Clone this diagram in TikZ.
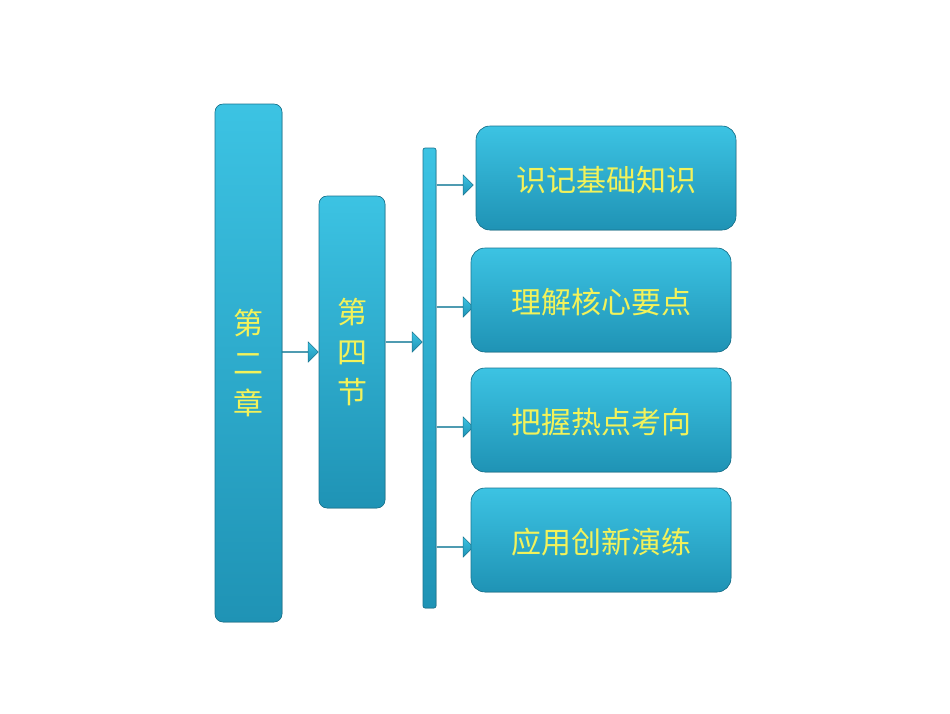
\documentclass[tikz,border=0pt]{standalone}
\usepackage{fontspec}
\newfontfamily\cjk{Noto Sans CJK SC}
\usetikzlibrary{shapes.arrows}
\definecolor{boxtop}{HTML}{3CC3E3}
\definecolor{boxbot}{HTML}{1F93B5}
\definecolor{txt}{HTML}{F2F25A}
\tikzset{
  box/.style={rounded corners=8pt, top color=boxtop, bottom color=boxbot, draw=boxbot!80!black, line width=0.6pt},
  lbl/.style={text=txt, font=\cjk\fontsize{30}{40}\selectfont, align=center},
  barrow/.style={single arrow, single arrow head extend=5pt, minimum height=36pt, minimum width=20pt, inner sep=0pt, top color=boxtop, bottom color=boxbot, draw=boxbot!80!black, line width=0.5pt}
}
\begin{document}
\begin{tikzpicture}[x=1pt,y=-1pt]
\useasboundingbox (0,0) rectangle (950,713);
\fill[white] (0,0) rectangle (950,713);
\filldraw[box] (215,104) rectangle (282,622);
\node[lbl] (c) at (248.5,363) {第\\二\\章};
\filldraw[box] (319,196) rectangle (385,508);
\node[lbl] (s) at (352,352) {第\\四\\节};
\filldraw[box,rounded corners=2pt] (423,148) rectangle (436,608);
\node[barrow] (a1) at (300,352) {};
\node[barrow] (a2) at (404,342) {};
\foreach \y/\t/\xa in {178/识记基础知识/476, 300/理解核心要点/471, 420/把握热点考向/471, 540/应用创新演练/471}{
  \node[barrow] at (455,\y+7) {};
  \filldraw[box,rounded corners=14pt] (\xa,\y-52) rectangle (\xa+260,\y+52);
  \node[lbl] at (\xa+130,\y+2) {\t};
}
\end{tikzpicture}
\end{document}
